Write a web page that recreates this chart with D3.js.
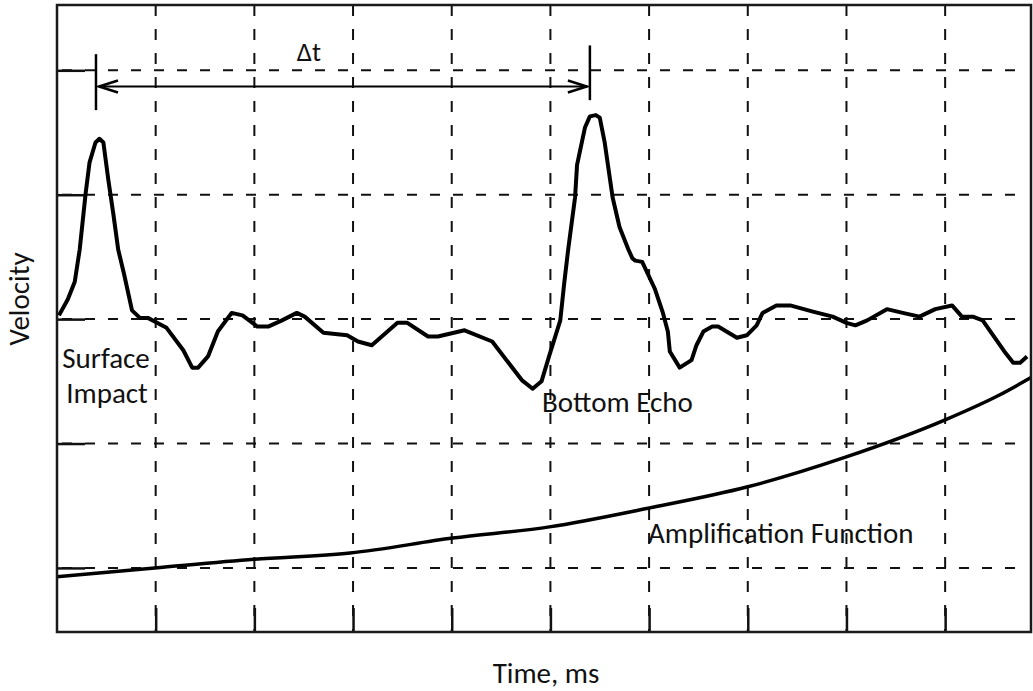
<!DOCTYPE html>
<html>
<head>
<meta charset="utf-8">
<script src="https://d3js.org/d3.v7.min.js"></script>
<style>
  body { margin: 0; background: #fff; }
  svg { display: block; }
  text { font-family: Carlito, Lato, "Open Sans", sans-serif; fill: #111; }
</style>
</head>
<body>
<svg></svg>
<script>
    const width = 1033;
    const height = 691;

    // time in grid divisions, velocity in grid divisions (0 = lowest grid line)
    const waveT = [0.02, 0.11, 0.18, 0.23, 0.29, 0.33, 0.39, 0.43, 0.47, 0.52, 0.57, 0.62, 0.68, 0.76, 0.84, 0.92, 0.99,
                   1.11, 1.28, 1.37, 1.43, 1.53, 1.63, 1.77, 1.88, 2.03, 2.14, 2.28, 2.43, 2.51, 2.70, 2.94, 3.05, 3.19,
                   3.45, 3.55, 3.76, 3.86, 4.13, 4.41, 4.71, 4.82, 4.91, 4.99, 5.10, 5.14, 5.18, 5.25, 5.27, 5.35, 5.40,
                   5.46, 5.50, 5.55, 5.63, 5.70, 5.79, 5.83, 5.86, 5.93, 6.06, 6.14, 6.19, 6.21, 6.31, 6.43, 6.48, 6.55,
                   6.64, 6.70, 6.89, 6.99, 7.09, 7.15, 7.29, 7.43, 7.66, 7.86, 8.00, 8.09, 8.21, 8.41, 8.57, 8.74, 8.90,
                   9.07, 9.17, 9.28, 9.38, 9.60, 9.69, 9.76, 9.83];
    const waveV = [2.03, 2.16, 2.30, 2.56, 3.01, 3.26, 3.42, 3.45, 3.42, 3.12, 2.85, 2.56, 2.36, 2.07, 2.01, 2.01, 1.98,
                   1.93, 1.75, 1.61, 1.61, 1.70, 1.90, 2.05, 2.03, 1.94, 1.94, 1.99, 2.05, 2.02, 1.89, 1.87, 1.82, 1.79,
                   1.97, 1.97, 1.86, 1.86, 1.91, 1.82, 1.51, 1.44, 1.50, 1.71, 1.99, 2.29, 2.56, 2.98, 3.24, 3.54, 3.63,
                   3.64, 3.62, 3.42, 2.98, 2.74, 2.56, 2.49, 2.47, 2.46, 2.24, 2.05, 1.90, 1.74, 1.61, 1.67, 1.79, 1.90,
                   1.94, 1.94, 1.85, 1.87, 1.95, 2.05, 2.11, 2.11, 2.06, 2.02, 1.97, 1.95, 1.99, 2.08, 2.05, 2.02, 2.08,
                   2.11, 2.02, 2.02, 1.99, 1.74, 1.65, 1.65, 1.70];

    const ampT = [0, 0.99, 2.00, 2.97, 4.01, 4.99, 5.99, 6.99, 7.99, 9.00, 9.55, 9.87];
    const ampV = [-0.07, 0.00, 0.07, 0.12, 0.24, 0.33, 0.48, 0.65, 0.89, 1.19, 1.39, 1.53];

    const gridT = [1, 2, 3, 4, 5, 6, 7, 8, 9];
    const gridV = [0, 1, 2, 3, 4];

    const svg = d3.select('svg').attr('width', width).attr('height', height);

    const x = d3.scaleLinear().domain([0, 9.87]).range([57, 1031]);
    const y = d3.scaleLinear().domain([-0.515, 4.525]).range([632, 5]);

    // dashed grid
    svg.append('g').selectAll('line').data(gridT).enter().append('line')
        .attr('x1', d => x(d)).attr('x2', d => x(d))
        .attr('y1', y.range()[1]).attr('y2', y.range()[0])
        .style('stroke', '#111').style('stroke-width', 2)
        .style('stroke-dasharray', '11,13');
    svg.append('g').selectAll('line').data(gridV).enter().append('line')
        .attr('x1', x.range()[0]).attr('x2', x.range()[1] - 4)
        .attr('y1', d => y(d)).attr('y2', d => y(d))
        .style('stroke', '#111').style('stroke-width', 2)
        .style('stroke-dasharray', '10,13')
        .style('stroke-dashoffset', -28);

    // solid inner ticks
    const bottomAxis = svg.append('g').attr('transform', `translate(0,${y.range()[0]})`)
        .call(d3.axisBottom(x).tickValues(gridT).tickSize(-24).tickFormat(''));
    const leftAxis = svg.append('g').attr('transform', `translate(${x.range()[0]},0)`)
        .call(d3.axisLeft(y).tickValues(gridV).tickSize(-28).tickFormat(''));
    [bottomAxis, leftAxis].forEach(g => {
        g.select('.domain').remove();
        g.selectAll('line').style('stroke', '#111').style('stroke-width', 2.5);
    });

    // amplification function
    const ampLine = d3.line().x(d => x(d[0])).y(d => y(d[1])).curve(d3.curveMonotoneX);
    svg.append('path')
        .datum(ampT.map((t, i) => [t, ampV[i]]))
        .attr('d', ampLine)
        .style('fill', 'none').style('stroke', '#000').style('stroke-width', 3.5);

    // velocity trace
    const waveLine = d3.line().x(d => x(d[0])).y(d => y(d[1]));
    svg.append('path')
        .datum(waveT.map((t, i) => [t, waveV[i]]))
        .attr('d', waveLine)
        .style('fill', 'none').style('stroke', '#000').style('stroke-width', 4)
        .style('stroke-linejoin', 'round');

    // frame
    svg.append('rect')
        .attr('x', x.range()[0]).attr('y', y.range()[1])
        .attr('width', x.range()[1] - x.range()[0]).attr('height', y.range()[0] - y.range()[1])
        .style('fill', 'none').style('stroke', '#1a1a1a').style('stroke-width', 2.5);

    // delta t marker
    const tA = 0.395, tB = 5.40, vArrow = 3.87;
    const ax1 = x(tA), ax2 = x(tB), ay = y(vArrow);
    svg.append('line').attr('x1', ax1).attr('x2', ax1).attr('y1', y(4.13)).attr('y2', y(3.68))
        .style('stroke', '#000').style('stroke-width', 2.5);
    svg.append('line').attr('x1', ax2).attr('x2', ax2).attr('y1', y(4.20)).attr('y2', y(3.76))
        .style('stroke', '#000').style('stroke-width', 2.5);
    svg.append('line').attr('x1', ax1 + 3).attr('x2', ax2 - 3).attr('y1', ay).attr('y2', ay)
        .style('stroke', '#000').style('stroke-width', 2);
    svg.append('path')
        .attr('d', `M${ax1 + 22},${ay - 6} L${ax1 + 3},${ay} L${ax1 + 22},${ay + 6}`)
        .style('fill', 'none').style('stroke', '#000').style('stroke-width', 2.5);
    svg.append('path')
        .attr('d', `M${ax2 - 22},${ay - 6} L${ax2 - 3},${ay} L${ax2 - 22},${ay + 6}`)
        .style('fill', 'none').style('stroke', '#000').style('stroke-width', 2.5);

    const fs = 29;
    svg.append('text').attr('x', (ax1 + ax2) / 2 - 34).attr('y', ay - 25)
        .attr('text-anchor', 'middle').style('font-size', '27px').text('\u0394t');

    // annotations
    svg.append('text').attr('x', 106).attr('y', 368)
        .attr('text-anchor', 'middle').style('font-size', fs + 'px').text('Surface');
    svg.append('text').attr('x', 107).attr('y', 403)
        .attr('text-anchor', 'middle').style('font-size', fs + 'px').text('Impact');
    svg.append('text').attr('x', 542).attr('y', 412)
        .style('font-size', fs + 'px').text('Bottom Echo');
    svg.append('text').attr('x', 648).attr('y', 543)
        .style('font-size', fs + 'px').text('Amplification Function');

    // axis titles
    svg.append('text').attr('x', 546).attr('y', 683)
        .attr('text-anchor', 'middle').style('font-size', fs + 'px').text('Time, ms');
    svg.append('text').attr('transform', 'translate(29,299) rotate(-90)')
        .attr('text-anchor', 'middle').style('font-size', fs + 'px').text('Velocity');
</script>
</body>
</html>
